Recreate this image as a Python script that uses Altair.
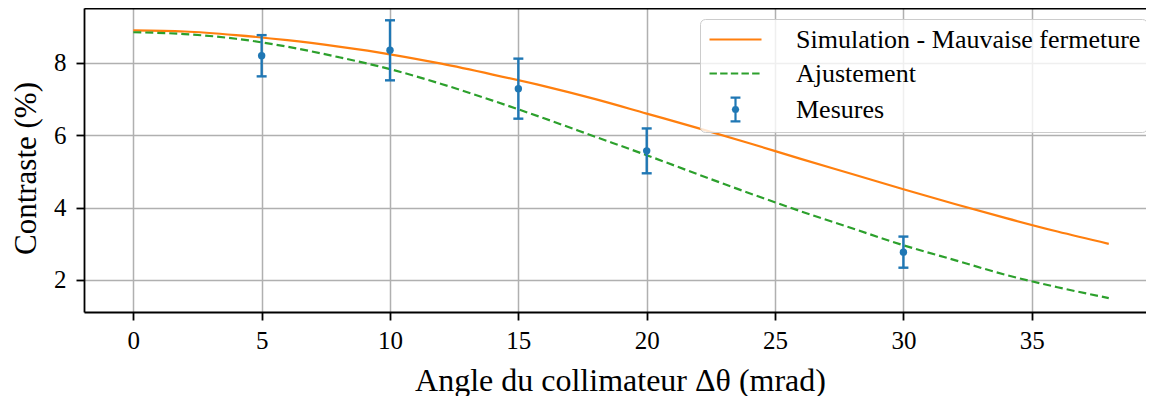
import math
import altair as alt
import pandas as pd

# ---- data ----
x_curve = [0, 2, 4, 6, 8, 10, 12, 14, 16, 18, 20, 22, 24, 26, 28, 30, 32, 34, 36, 38]
sim_vals = [8.90, 8.87, 8.77, 8.63, 8.45, 8.24, 7.98, 7.68, 7.36, 7.00,
            6.60, 6.20, 5.78, 5.35, 4.93, 4.51, 4.10, 3.71, 3.34, 3.00]
fit_vals = [8.85, 8.80, 8.67, 8.45, 8.16, 7.83, 7.42, 6.96, 6.47, 5.96,
            5.45, 4.92, 4.40, 3.90, 3.43, 2.96, 2.55, 2.14, 1.80, 1.50]
meas_x = [5, 10, 15, 20, 30]
meas_y = [8.20, 8.35, 7.29, 5.57, 2.77]
meas_err = [0.57, 0.83, 0.83, 0.62, 0.43]

series_names = ["Simulation - Mauvaise fermeture", "Ajustement", "Mesures"]
series_colors = ["#ff7f0e", "#2ca02c", "#1f77b4"]
x_ticks = [0, 5, 10, 15, 20, 25, 30, 35]
y_ticks = [2, 4, 6, 8]


# ---- legend symbol glyphs (stroke-only SVG paths in the unit box) ----
def octagon(r):
    pts = [(r * math.cos(k * math.pi / 4), r * math.sin(k * math.pi / 4)) for k in range(8)]
    return "M" + "L".join(f"{x:.3f},{y:.3f}" for x, y in pts) + "Z"


SOLID_PATH = "M-2,0L2,0"
DASH_PATH = "M-2,0L-1.43,0M-1.18,0L-0.61,0M-0.36,0L0.21,0M0.46,0L1.03,0M1.28,0L1.85,0"
ERR_PATH = ("M0,-0.92L0,0.92M-0.38,-0.92L0.38,-0.92M-0.38,0.92L0.38,0.92"
            + octagon(0.08) + octagon(0.2))

sim_df = pd.DataFrame({"x": x_curve, "y": sim_vals, "series": series_names[0]})
fit_df = pd.DataFrame({"x": x_curve, "y": fit_vals, "series": series_names[1]})
meas_df = pd.DataFrame({
    "x": meas_x,
    "y": meas_y,
    "lo": [v - e for v, e in zip(meas_y, meas_err)],
    "hi": [v + e for v, e in zip(meas_y, meas_err)],
    "series": series_names[2],
})

FONT = "Liberation Serif"
ORANGE, GREEN, BLUE = series_colors

xscale = alt.Scale(domain=[-1.92, 39.45], nice=False, zero=False)
yscale = alt.Scale(domain=[1.115, 9.52], nice=False, zero=False)
stroke_scale = alt.Scale(domain=series_names, range=series_colors)
shape_scale = alt.Scale(domain=series_names, range=[SOLID_PATH, DASH_PATH, ERR_PATH])

x_bottom = alt.X("x:Q", scale=xscale, axis=alt.Axis(
    values=x_ticks, title="Angle du collimateur Δθ (mrad)", format="d",
    titleX=536, titleY=78, titleBaseline="alphabetic", titleAlign="center",
    labelPadding=8, grid=True))
x_top = alt.X("x:Q", scale=xscale, axis=alt.Axis(
    orient="top", labels=False, ticks=False, grid=False, title=None, domain=True))
x_none = alt.X("x:Q", scale=xscale, axis=None)
y_left = alt.Y("y:Q", scale=yscale, axis=alt.Axis(
    orient="left", values=y_ticks, title="Contraste (%)", format="d",
    titleX=-49, titleY=160, titleAngle=270, titleAlign="center",
    titleBaseline="alphabetic", titleFontSize=31, labelPadding=10, grid=True))
y_none = alt.Y("y:Q", scale=yscale, axis=None)

sim = alt.Chart(sim_df).mark_line(strokeWidth=2.2, interpolate="monotone", stroke=ORANGE).encode(
    x=x_bottom, y=y_left,
)
fit = alt.Chart(fit_df).mark_line(strokeWidth=2.2, interpolate="monotone", stroke=GREEN,
                                  strokeDash=[8, 4]).encode(
    x=x_top, y=y_none,
)
bars = alt.Chart(meas_df).mark_rule(strokeWidth=2.4, color=BLUE).encode(
    x=x_none,
    y=alt.Y("lo:Q", scale=yscale, axis=None),
    y2="hi:Q",
)
caps_lo = alt.Chart(meas_df).mark_tick(orient="horizontal", size=10, thickness=2.4, color=BLUE, opacity=1).encode(
    x=x_none,
    y=alt.Y("lo:Q", scale=yscale, axis=None),
)
caps_hi = alt.Chart(meas_df).mark_tick(orient="horizontal", size=10, thickness=2.4, color=BLUE, opacity=1).encode(
    x=x_none,
    y=alt.Y("hi:Q", scale=yscale, axis=None),
)
dots = alt.Chart(meas_df).mark_circle(size=55, opacity=1, color=BLUE).encode(
    x=x_none, y=y_none,
)

LEGEND = dict(title=None, orient="none", legendX=616, legendY=11)
leg = (
    alt.Chart(meas_df)
    .transform_filter("false")
    .mark_point(filled=False, opacity=1, size=676, strokeWidth=2.2)
    .encode(
        x=x_none, y=y_none,
        stroke=alt.Stroke("series:N", scale=stroke_scale, legend=alt.Legend(**LEGEND)),
        shape=alt.Shape("series:N", scale=shape_scale, legend=alt.Legend(**LEGEND)),
    )
)

chart = (
    alt.layer(leg, sim, fit, bars, caps_lo, caps_hi, dots)
    .resolve_axis(x="independent", y="independent")
    .properties(
        width=1062, height=304,
        autosize=alt.AutoSizeParams(type="none"),
        padding={"left": 76, "top": 0, "right": 0, "bottom": 84},
    )
    .configure(font=FONT)
    .configure_view(stroke=None)
    .configure_axis(
        labelFont=FONT, labelFontSize=25, labelColor="black",
        titleFont=FONT, titleFontSize=32, titleFontWeight="normal", titleColor="black",
        domainColor="black", domainWidth=1.8,
        tickColor="black", tickWidth=1.8, tickSize=8,
        gridColor="#b0b0b0", gridWidth=1.5,
    )
    .configure_legend(
        orient="none", legendX=616, legendY=11,
        padding=6, rowPadding=6, symbolOffset=15, labelOffset=46,
        labelFont=FONT, labelFontSize=26, labelColor="black", labelLimit=600,
        symbolSize=676, symbolStrokeWidth=2.2, symbolOpacity=1,
        fillColor="rgba(255,255,255,0.8)", strokeColor="#cccccc", cornerRadius=5,
    )
)

chart.save("out.html", embed_options={"renderer": "svg", "actions": False})
